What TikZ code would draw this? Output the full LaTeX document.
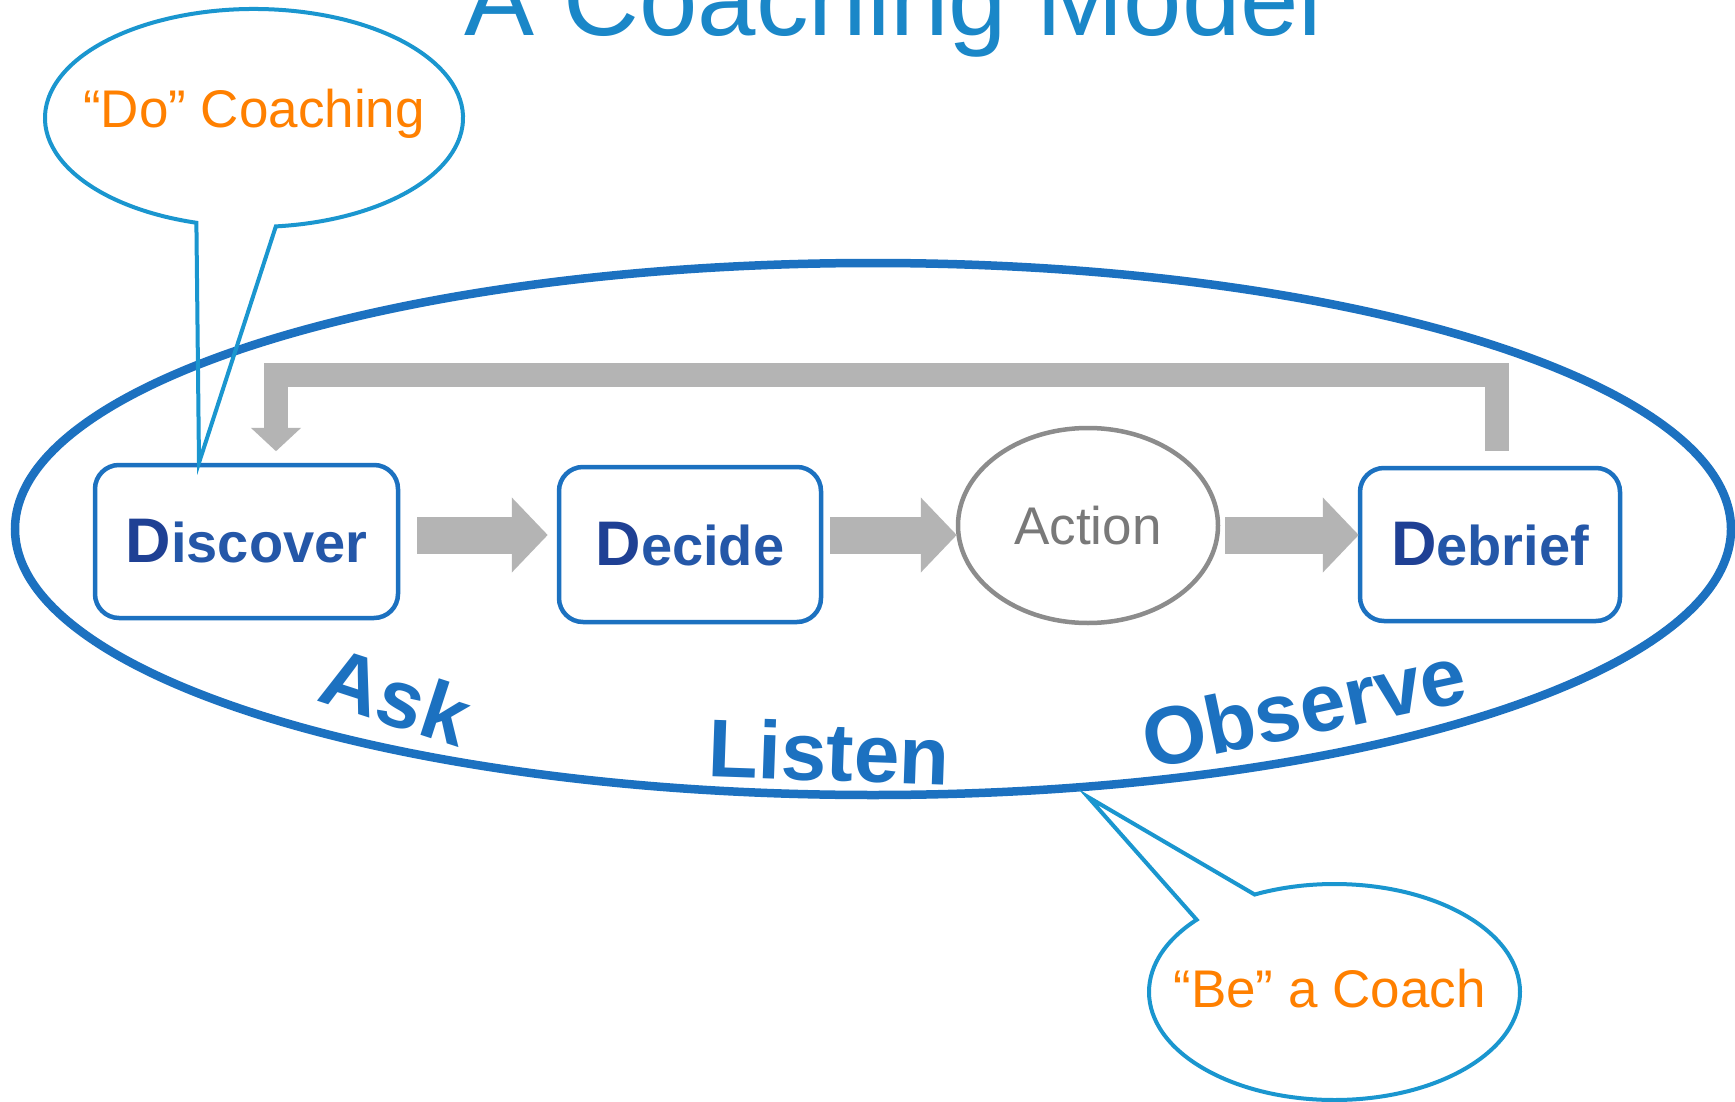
\documentclass[tikz,border=0pt]{standalone}
\usepackage{fontspec}
\setmainfont{Liberation Sans}
\usetikzlibrary{calc, positioning, shapes.geometric, arrows.meta}
\definecolor{loopblue}{RGB}{28,113,192}
\definecolor{titleblue}{RGB}{26,135,200}
\definecolor{bubbleblue}{RGB}{26,150,207}
\definecolor{coachorange}{RGB}{255,128,0}
\definecolor{dnavy}{RGB}{31,64,148}
\definecolor{stepblue}{RGB}{36,87,168}
\definecolor{flowgray}{RGB}{180,180,180}
\definecolor{actgray}{RGB}{140,140,140}
\newcommand{\fsz}[1]{\fontsize{#1}{#1}\selectfont}
% large dark initial of each step
\newcommand{\initial}[1]{{\fsz{63}\color{dnavy}#1}}
\tikzset{
  % process step
  stepbox/.style={draw=loopblue, line width=4.5pt, rounded corners=24pt,
    minimum width=262pt, minimum height=155pt, inner sep=0pt,
    text=stepblue, font=\bfseries\fsz{56}},
  % the one step that is not a D
  actnode/.style={draw=actgray, line width=4.5pt, ellipse, inner sep=0pt,
    minimum width=260pt, minimum height=195pt, text=gray!95!black,
    font=\fsz{53}},
  % gray block arrows
  flow/.style={draw=flowgray, line width=37pt,
    -{Triangle[length=36pt, width=73pt]}},
  feedback/.style={draw=flowgray, line width=24pt,
    -{Triangle[length=23.5pt, width=49pt]}},
  % speech bubbles
  bubble/.style={draw=bubbleblue, line width=4pt, line join=miter},
  bubbletext/.style={text=coachorange, font=\fsz{53}, anchor=base,
    inner sep=0pt},
  % words on the loop
  cueword/.style={text=loopblue, font=\bfseries\fsz{82}, anchor=base,
    inner sep=0pt},
}

\begin{document}
\begin{tikzpicture}[x=1pt, y=-1pt]
  \useasboundingbox (0,0) rectangle (1735,1102);
  \fill[white] (0,0) rectangle (1735,1102);

  \node[text=titleblue, font=\fsz{105}, anchor=base, inner sep=0pt] (title)
    at (893.5,35.5) {A Coaching Model};

  % the coaching loop
  \draw[loopblue, line width=8.5pt] (873,529) ellipse (858 and 266);

  \node[stepbox, minimum width=303pt, minimum height=153pt] (discover)
    at (246.5,541.5) {\initial{D}iscover};
  \node[stepbox] (decide) at (690,544.5) {\initial{D}ecide};
  \node[actnode] (action) at (1088,525.5) {Action};
  \node[stepbox, minimum width=260pt, minimum height=153pt] (debrief)
    at (1490,544.5) {\initial{D}ebrief};

  \draw[flow] ([xshift=17pt, yshift=6.5pt]discover.east) coordinate (f1)
    -- ([xshift=-9pt]decide.west |- f1);
  \draw[flow] ([xshift=7pt, yshift=9.5pt]decide.east) coordinate (f2)
    -- ([xshift=1pt]action.west |- f2);
  \draw[flow] ([xshift=5pt]action.east |- f2) -- ([xshift=1pt]debrief.west |- f2);

  \draw[feedback] ([xshift=7pt, yshift=15pt]debrief.north) -- ++(0,-75.5)
    -| ([xshift=29.5pt, yshift=11.5pt]discover.north);

  \node[cueword, rotate=-18] (ask) at (387,724) {Ask};
  \node[cueword, rotate=-2] (listen) at (828,781) {Listen};
  \node[cueword, rotate=12] (observe) at (1310,735) {Observe};

  % "Do" bubble
  \coordinate (doc) at (254,118);
  \draw[bubble] ($(doc)+(84:209 and 109)$)
    -- ([xshift=-47.5pt]discover.north)
    -- ($(doc)+(106:209 and 109)$)
    arc[start angle=106, end angle=444, x radius=209, y radius=109] -- cycle;
  \node[bubbletext] (do) at (254,128) {“Do” Coaching};

  % "Be" bubble
  \coordinate (bec) at (1334.5,992);
  \coordinate (betip) at (1088,797);
  \draw[bubble] ($(bec)+(244.5:185.5 and 108)$) -- (betip)
    -- ($(bec)+(222:185.5 and 108)$)
    arc[start angle=222, end angle=-115.5, x radius=185.5, y radius=108] -- cycle;
  \node[bubbletext] (be) at (1329.5,1007.5) {“Be” a Coach};
\end{tikzpicture}
\end{document}
